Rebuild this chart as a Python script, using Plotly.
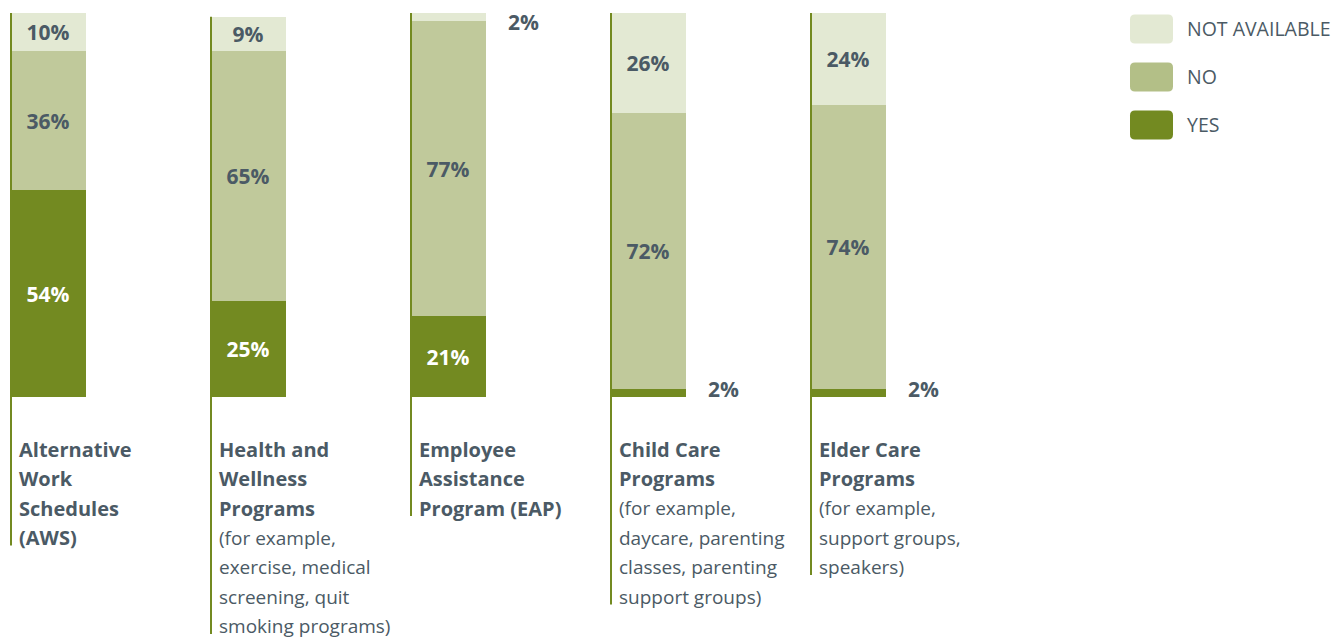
import plotly.graph_objects as go

# ---- data ----
categories_bold = [
    ["Alternative", "Work", "Schedules", "(AWS)"],
    ["Health and", "Wellness", "Programs"],
    ["Employee", "Assistance", "Program (EAP)"],
    ["Child Care", "Programs"],
    ["Elder Care", "Programs"],
]
categories_note = [
    [],
    ["(for example,", "exercise, medical", "screening, quit", "smoking programs)"],
    [],
    ["(for example,", "daycare, parenting", "classes, parenting", "support groups)"],
    ["(for example,", "support groups,", "speakers)"],
]
yes_vals = [54, 25, 21, 2, 2]
no_vals = [36, 65, 77, 72, 74]
na_vals = [10, 9, 2, 26, 24]
series_names = ["YES", "NO", "NOT AVAILABLE"]

# ---- styling ----
W, H = 1335, 639
C_YES = "#738a21"
C_NO = "#c0c99b"
C_NO_LEG = "#b3bf87"
C_NA = "#e3e9d3"
C_TEXT = "#4b5a65"
FONT = "Open Sans"
BAR_W = 0.38
PX_PER_X = 200.0
X0_PX = 48.0            # pixel centre of first bar
TOP_PX, BOT_PX = 13.0, 397.0
PX_PER_Y = (BOT_PX - TOP_PX) / 100.0

x_range = [-X0_PX / PX_PER_X, (W - X0_PX) / PX_PER_X]
y_range = [100 - (H - TOP_PX) / PX_PER_Y, 100 + TOP_PX / PX_PER_Y]


def py_to_y(py):
    return 100 + (TOP_PX - py) / PX_PER_Y


xs = list(range(len(yes_vals)))
series = [(series_names[0], yes_vals, C_YES, "white"),
          (series_names[1], no_vals, C_NO, C_TEXT),
          (series_names[2], na_vals, C_NA, C_TEXT)]

fig = go.Figure()
for name, vals, col, tcol in series:
    fig.add_trace(go.Bar(
        x=xs, y=vals, name=name, width=BAR_W,
        marker=dict(color=col, line=dict(width=0)),
        text=[f"{v}%" if v >= 5 else "" for v in vals],
        textposition="inside", insidetextanchor="middle", textangle=0,
        constraintext="none",
        textfont=dict(family=FONT, size=21, color=tcol, weight=700),
        showlegend=False, hoverinfo="skip",
    ))

annotations = []
shapes = []

# small outside value labels
for i in xs:
    base = 0
    for k, (name, vals, col, tcol) in enumerate(series):
        v = vals[i]
        if v < 5:
            centre = base + v / 2
            ysh = 4 if base == 0 else -5
            annotations.append(dict(
                x=i + BAR_W / 2, y=centre, xref="x", yref="y",
                xanchor="left", yanchor="middle", xshift=20, yshift=ysh,
                text=f"{v}%", showarrow=False,
                font=dict(family=FONT, size=21, color=C_TEXT, weight=700)))
        base += v

# category labels and left rules
FIRST_LINE_PX = 449.0
LINE_PITCH = 29.5
for i in xs:
    lines = [(t, 700) for t in categories_bold[i]] + [(t, 400) for t in categories_note[i]]
    for k, (t, wgt) in enumerate(lines):
        annotations.append(dict(
            x=i - BAR_W / 2, y=py_to_y(FIRST_LINE_PX + k * LINE_PITCH),
            xref="x", yref="y", xanchor="left", yanchor="middle", xshift=7,
            text=t, showarrow=False,
            font=dict(family=FONT, size=19 if wgt == 400 else 20, color=C_TEXT, weight=wgt)))
    total = yes_vals[i] + no_vals[i] + na_vals[i]
    bottom_px = FIRST_LINE_PX + (len(lines) - 1) * LINE_PITCH + 8
    lx = i - BAR_W / 2 + 1.0 / PX_PER_X
    shapes.append(dict(type="line", xref="x", yref="y", x0=lx, x1=lx,
                       y0=total, y1=py_to_y(bottom_px),
                       line=dict(color=C_YES, width=2), layer="above"))


# manual legend
def rrect_path(x0, y0, x1, y1, r):
    # pixel coords -> paper coords path with rounded corners
    def P(px, py):
        return f"{px / W:.6f},{1 - py / H:.6f}"
    return (f"M {P(x0 + r, y0)} L {P(x1 - r, y0)} Q {P(x1, y0)} {P(x1, y0 + r)} "
            f"L {P(x1, y1 - r)} Q {P(x1, y1)} {P(x1 - r, y1)} L {P(x0 + r, y1)} "
            f"Q {P(x0, y1)} {P(x0, y1 - r)} L {P(x0, y0 + r)} Q {P(x0, y0)} {P(x0 + r, y0)} Z")


legend_items = [(series_names[2], C_NA), (series_names[1], C_NO_LEG), (series_names[0], C_YES)]
for k, (name, col) in enumerate(legend_items):
    cy = 29 + k * 48
    shapes.append(dict(type="path", xref="paper", yref="paper",
                       path=rrect_path(1130, cy - 14.5, 1173, cy + 14.5, 5),
                       fillcolor=col, line=dict(width=0)))
    annotations.append(dict(x=1185 / W, y=1 - cy / H, xref="paper", yref="paper",
                            xanchor="left", yanchor="middle", text=name, showarrow=False,
                            font=dict(family=FONT, size=19.5, color=C_TEXT)))

fig.update_layout(
    width=W, height=H, barmode="stack", bargap=0,
    margin=dict(l=0, r=0, t=0, b=0),
    paper_bgcolor="white", plot_bgcolor="white",
    xaxis=dict(range=x_range, visible=False, fixedrange=True),
    yaxis=dict(range=y_range, visible=False, fixedrange=True),
    annotations=annotations, shapes=shapes,
    showlegend=False,
)

fig.write_html("out.html", config={"displayModeBar": False},
               post_script="document.body.style.margin='0px';document.body.style.overflow='hidden';")
